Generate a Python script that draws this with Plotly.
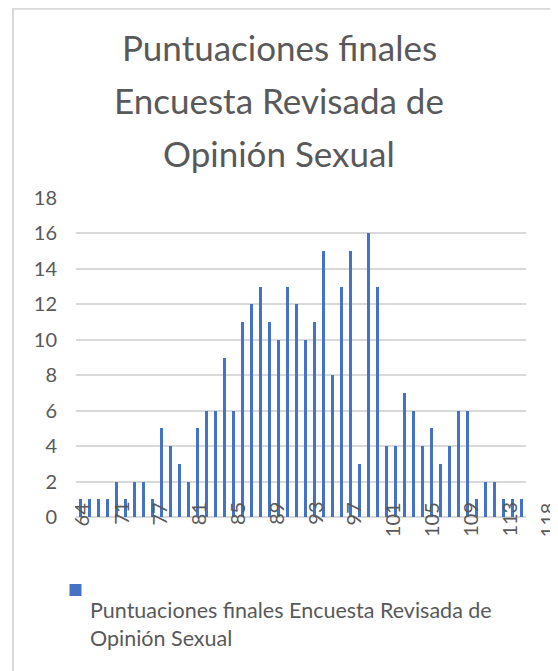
import plotly.graph_objects as go

# ---- data ----
frecuencias = [1, 1, 1, 1, 2, 1, 2, 2, 1, 5,
               4, 3, 2, 5, 6, 6, 9, 6, 11, 12,
               13, 11, 10, 13, 12, 10, 11, 15, 8, 13,
               15, 3, 16, 13, 4, 4, 7, 6, 4, 5,
               3, 4, 6, 6, 1, 2, 2, 1, 1, 1]
etiquetas_eje = ["64", "71", "77", "81", "85", "89", "93", "97",
                 "101", "105", "109", "113", "118"]
y_ticks = list(range(0, 19, 2))
serie_linea1 = "Puntuaciones finales Encuesta Revisada de"
serie_linea2 = "Opinión Sexual"
titulo = ["Puntuaciones finales", "Encuesta Revisada de", "Opinión Sexual"]

# ---- layout geometry (page has an 8px body margin) ----
OFF = 8
W, H = 558 - OFF, 671 - OFF
ML, MR, MT, MB = 76 - OFF, 32, 198 - OFF, 154
PW, PH = W - ML - MR, H - MT - MB
X0, X1 = -0.5, 49.5
BAR_COLOR = "#4472C4"


def xp(px):
    """window pixel -> paper x"""
    return (px - OFF - ML) / PW


def yp(py):
    """window pixel -> paper y"""
    return (H - MB - (py - OFF)) / PH


GRAY = "#595959"
FONT = "Lato, Liberation Sans, Arial, sans-serif"

fig = go.Figure()
fig.add_trace(go.Bar(
    x=list(range(len(frecuencias))),
    y=frecuencias,
    width=0.33,
    marker=dict(color=BAR_COLOR, line=dict(width=0)),
    name=serie_linea1 + " " + serie_linea2,
    showlegend=False,
))

annotations = []
# x-axis labels (rotated text, spaced as in the source picture)
step = 4.31
for k, lab in enumerate(etiquetas_eje):
    pos = 0.1 + step * k
    annotations.append(dict(
        x=(pos - X0) / (X1 - X0), xref="paper", y=yp(500), yref="paper",
        text=lab, textangle=-90, showarrow=False,
        xanchor="center", yanchor="top",
        font=dict(family=FONT, size=20, color=GRAY),
    ))
# title lines
for line, cy in zip(titulo, [47, 100.5, 153]):
    annotations.append(dict(
        x=xp(279), xref="paper", y=yp(cy), yref="paper",
        text=line, showarrow=False, xanchor="center", yanchor="middle",
        font=dict(family=FONT, size=35, color=GRAY),
    ))
# legend text (key drawn as a shape below)
annotations.append(dict(
    x=xp(88), xref="paper", y=yp(623.5), yref="paper",
    text=serie_linea1 + "<br>" + serie_linea2, showarrow=False,
    xanchor="left", yanchor="middle", align="left",
    font=dict(family=FONT, size=21.5, color=GRAY),
))

fig.update_layout(
    width=W, height=H,
    margin=dict(l=ML, r=MR, t=MT, b=MB, pad=0, autoexpand=False),
    paper_bgcolor="white", plot_bgcolor="white",
    font=dict(family=FONT, color=GRAY),
    bargap=0,
    xaxis=dict(range=[X0, X1], showticklabels=False, showgrid=False,
               zeroline=False, showline=False, ticks="", automargin=False),
    yaxis=dict(range=[0, 18], tickvals=y_ticks, showgrid=True,
               gridcolor="#d9d9d9", gridwidth=1.5, zeroline=True,
               zerolinecolor="#d9d9d9", zerolinewidth=1.5, showline=False,
               ticks="", ticklabelstandoff=18, automargin=False,
               tickfont=dict(family=FONT, size=20, color=GRAY)),
    showlegend=False,
    annotations=annotations,
    shapes=[
        dict(type="rect", xref="paper", yref="paper",
             x0=xp(13), x1=xp(555), y0=yp(8.7), y1=yp(690),
             line=dict(color="#d9d9d9", width=2), layer="below"),
        dict(type="rect", xref="paper", yref="paper",
             x0=xp(69.5), x1=xp(81.5), y0=yp(596), y1=yp(584),
             line=dict(width=0), fillcolor=BAR_COLOR),
    ],
)

fig.write_html("out.html")
